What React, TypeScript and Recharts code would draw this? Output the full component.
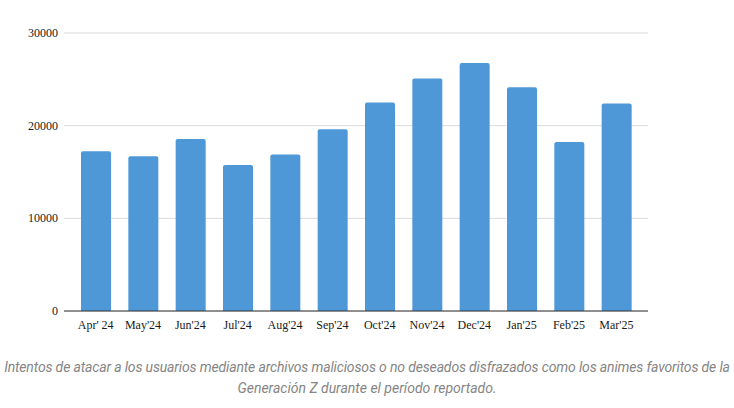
import React from "react";
import { BarChart, Bar, XAxis, YAxis, CartesianGrid } from "recharts";

const months = ["Apr' 24", "May'24", "Jun'24", "Jul'24", "Aug'24", "Sep'24", "Oct'24", "Nov'24", "Dec'24", "Jan'25", "Feb'25", "Mar'25"];
const attacks = [17250, 16700, 18550, 15750, 16900, 19600, 22500, 25100, 26750, 24150, 18250, 22400];
const yTicks = [0, 10000, 20000, 30000];
const captionLines = [
  "Intentos de atacar a los usuarios mediante archivos maliciosos o no deseados disfrazados como los animes favoritos de la",
  "Generación Z durante el período reportado.",
];

const data = months.map((m, i) => ({ month: m, value: attacks[i] }));

const serif = "'Liberation Serif', 'Times New Roman', serif";

const XTick = (props: any) => {
  const { x, y, payload } = props;
  return (
    <text x={x} y={y + 10} textAnchor="middle" style={{ fontFamily: serif, fontSize: 12, fill: "#1a1a1a" }}>
      {payload.value}
    </text>
  );
};

const YTick = (props: any) => {
  const { y, payload } = props;
  return (
    <text x={58} y={y + 4} textAnchor="end" style={{ fontFamily: serif, fontSize: 12, fill: "#1a1a1a" }}>
      {payload.value}
    </text>
  );
};

export default function App() {
  return (
    <div style={{ position: "absolute", left: 0, top: 0, width: 734, height: 408, background: "#fff" }}>
      <BarChart
        width={734}
        height={340}
        data={data}
        margin={{ top: 33, right: 86, bottom: 0, left: 0 }}
      >
        <CartesianGrid vertical={false} stroke="#d9d9d9" />
        <XAxis
          dataKey="month"
          tick={<XTick />}
          tickLine={false}
          axisLine={{ stroke: "#333" }}
          padding={{ left: 8, right: 8 }}
          height={29}
          interval={0}
        />
        <YAxis
          domain={[0, 30000]}
          ticks={yTicks}
          tick={<YTick />}
          tickLine={false}
          axisLine={false}
          width={64}
        />
        <Bar dataKey="value" fill="#4e98d8" barSize={30} radius={[2, 2, 0, 0]} isAnimationActive={false} />
      </BarChart>
      <div
        style={{
          position: "absolute",
          left: 0,
          top: 357,
          width: 734,
          textAlign: "center",
          fontFamily: "Roboto, sans-serif",
          fontStyle: "italic",
          fontSize: 14,
          lineHeight: "21px",
          color: "#858585",
        }}
      >
        <div style={{ whiteSpace: "nowrap", letterSpacing: -0.15 }}>{captionLines[0]}</div>
        <div style={{ whiteSpace: "nowrap" }}>{captionLines[1]}</div>
      </div>
    </div>
  );
}
